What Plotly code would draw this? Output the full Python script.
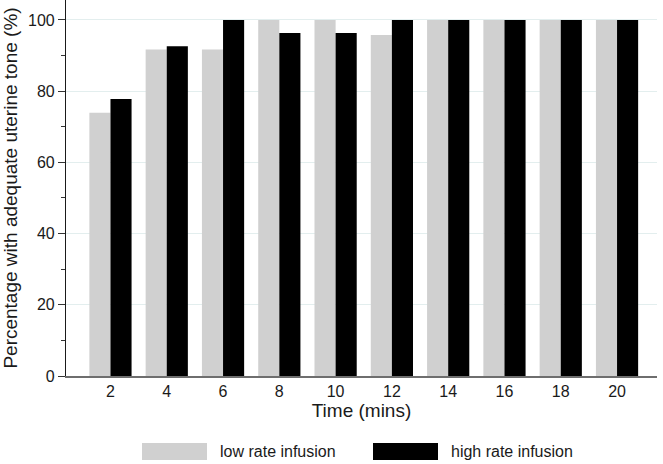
import plotly.graph_objects as go

times = [2, 4, 6, 8, 10, 12, 14, 16, 18, 20]
low_rate = [73.9, 91.7, 91.7, 100, 100, 95.8, 100, 100, 100, 100]
high_rate = [77.8, 92.6, 100, 96.3, 96.3, 100, 100, 100, 100, 100]
series_names = ["low rate infusion", "high rate infusion"]
series_colors = ["#d0d0d0", "#000000"]

W, H = 663, 464
ml, mr, mt, mb = 66, 6, 0, 88
pw, ph = W - ml - mr, H - mt - mb

def px_x(px):
    return (px - ml) / pw

def px_y(py):
    return (H - mb - py) / ph

FONT = "Liberation Sans, Arial, sans-serif"
FS = 16

fig = go.Figure()
fig.add_trace(go.Bar(x=times, y=low_rate, name=series_names[0],
                     marker=dict(color=series_colors[0], line=dict(width=0))))
fig.add_trace(go.Bar(x=times, y=high_rate, name=series_names[1],
                     marker=dict(color=series_colors[1], line=dict(width=0))))

fig.update_layout(
    width=W, height=H,
    margin=dict(l=ml, r=mr, t=mt, b=mb, autoexpand=False),
    paper_bgcolor="white", plot_bgcolor="white",
    barmode="group", bargap=0.25, bargroupgap=0,
    showlegend=False,
    font=dict(family=FONT, size=FS, color="#1a1a1a"),
)

fig.update_xaxes(
    range=[0.42, 21.42], tickmode="array", tickvals=times,
    ticktext=[str(t) for t in times],
    showgrid=False, zeroline=False, ticks="", ticklen=0,
    showline=True, linecolor="#6e6e6e", linewidth=1.5,
    title=dict(text="Time (mins)", standoff=2),
    tickfont=dict(size=FS),
)
fig.update_yaxes(
    range=[0, 105.6], tickmode="array", tickvals=[0, 20, 40, 60, 80, 100],
    showgrid=True, gridcolor="#e3eeee", gridwidth=1,
    zeroline=False, ticks="outside", ticklen=7, tickcolor="#333333",
    showline=True, linecolor="#1a1a1a", linewidth=1.2,
    minor=dict(tickvals=[10, 30, 50, 70, 90], ticks="outside", ticklen=4,
               tickcolor="#333333", showgrid=False),
    title=dict(text="Percentage with adequate uterine tone (%)", standoff=6),
    tickfont=dict(size=FS),
)

# custom legend (large swatches like the reference)
legend_items = [
    (142, 207, 218),
    (373, 438, 449),
]
for (x0, x1, tx), name, col in zip(legend_items, series_names, series_colors):
    fig.add_shape(type="rect", xref="paper", yref="paper",
                  x0=px_x(x0), x1=px_x(x1), y0=px_y(443), y1=px_y(460),
                  fillcolor=col, line=dict(width=0))
    fig.add_annotation(xref="paper", yref="paper", x=px_x(tx), y=px_y(451.5),
                       text=name, showarrow=False, xanchor="left", yanchor="middle",
                       font=dict(size=FS, family=FONT, color="#1a1a1a"))

fig.write_html("out.html", config={"displayModeBar": False},
               post_script="document.body.style.margin='0';")
